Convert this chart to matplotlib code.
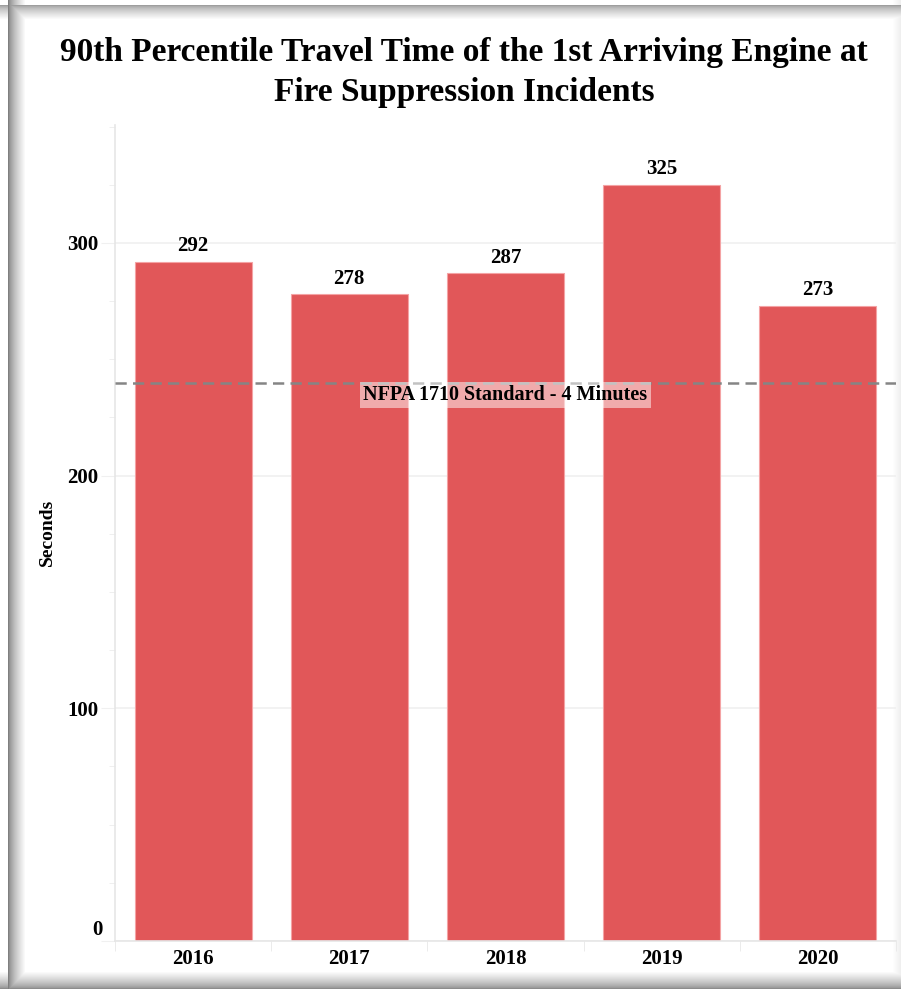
import numpy as np
import matplotlib
matplotlib.use("Agg")
import matplotlib.pyplot as plt
from matplotlib.ticker import MultipleLocator, FuncFormatter

years = ["2016", "2017", "2018", "2019", "2020"]
travel_secs = [292, 278, 287, 325, 273]
nfpa_standard = 240
nfpa_label = "NFPA 1710 Standard - 4 Minutes"
title_lines = ["90th Percentile Travel Time of the 1st Arriving Engine at",
               "Fire Suppression Incidents"]

W, H = 901, 989
plt.rcParams["font.family"] = ["Liberation Serif", "DejaVu Serif"]
plt.rcParams["font.weight"] = "bold"

fig = plt.figure(figsize=(W / 100, H / 100), dpi=100)

# drop shadow round the panel
bg = fig.add_axes([0, 0, 1, 1], zorder=-10)
xx = np.arange(W)[None, :].repeat(H, 0).astype(float)
yy = np.arange(H)[:, None].repeat(W, 1).astype(float)
left = np.where(xx >= 8, 0.5 + 0.5 * np.clip((xx - 8) / 17, 0, 1) ** 0.7, 1.0)
top = np.where(yy >= 5, 0.62 + 0.38 * np.clip((yy - 5) / 14, 0, 1) ** 0.7, 1.0)
bottom = 0.55 + 0.45 * np.clip((988 - yy) / 17, 0, 1) ** 0.7
right = 0.94 + 0.06 * np.clip((900 - xx) / 8, 0, 1)
shade = np.minimum.reduce([left, top, bottom, right])
bg.imshow(np.dstack([shade] * 3), aspect="auto", interpolation="bilinear",
          vmin=0, vmax=1)
bg.axis("off")

ax = fig.add_axes([115 / W, 1 - 941 / H, (896 - 115) / W, (941 - 125) / H])
ax.set_facecolor("none")
x = np.arange(len(years))
ax.bar(x, travel_secs, width=0.75, color="#e15759", edgecolor="#f4a3a4",
       linewidth=0.8, zorder=2)
for xi, v in zip(x, travel_secs):
    ax.annotate(str(v), (xi, v), xytext=(0, 4), textcoords="offset points",
                ha="center", va="bottom", fontsize=15, fontweight="bold")

ax.axhline(nfpa_standard, color="#858585", linestyle=(0, (4.5, 2.5)),
           linewidth=1.8, zorder=3)
ax.annotate(nfpa_label, (2, nfpa_standard), xytext=(0, -9),
            textcoords="offset points", ha="center", va="center",
            fontsize=14.5, fontweight="bold", zorder=4,
            bbox=dict(boxstyle="square,pad=0.15", facecolor="white",
                      edgecolor="none", alpha=0.5))

ax.set_xlim(-0.5, len(years) - 0.5)
ax.set_ylim(0, 350.7)
ax.yaxis.set_major_locator(MultipleLocator(100))
ax.yaxis.set_minor_locator(MultipleLocator(25))
# zero label is drawn separately, lifted off the baseline
ax.yaxis.set_major_formatter(FuncFormatter(lambda v, p: "" if v == 0 else f"{v:.0f}"))
ax.annotate("0", (0, 0), xycoords=("axes fraction", "data"), xytext=(-9, 8),
            textcoords="offset points", ha="right", va="center",
            fontsize=15, fontweight="bold")
ax.grid(axis="y", color="#f0f0f0", linewidth=1.2, zorder=0)
ax.set_xticks(x)
ax.set_xticklabels(years, fontsize=15, fontweight="bold")
ax.set_xticks(np.arange(-0.5, len(years)), minor=True)
ax.tick_params(axis="x", which="major", length=0, pad=6)
ax.tick_params(axis="x", which="minor", length=7, color="#e8e8e8")
ax.tick_params(axis="y", which="major", length=10, color="#f0f0f0",
               labelsize=15, pad=2)
ax.tick_params(axis="y", which="minor", length=4, color="#ececec")
for lab in ax.get_yticklabels():
    lab.set_fontweight("bold")

for side in ["top", "right"]:
    ax.spines[side].set_visible(False)
for side in ["left", "bottom"]:
    ax.spines[side].set_color("#e6e6e6")
    ax.spines[side].set_linewidth(1.2)

ax.set_ylabel("Seconds", fontsize=14, fontweight="bold")
ax.yaxis.set_label_coords((56 - 115) / 781, (941 - 532) / 816)

fig.text(464 / W, 1 - 52 / H, title_lines[0], ha="center", va="center",
         fontsize=24, fontweight="bold")
fig.text(464 / W, 1 - 92 / H, title_lines[1], ha="center", va="center",
         fontsize=24, fontweight="bold")

fig.savefig("out.png", dpi=100)
